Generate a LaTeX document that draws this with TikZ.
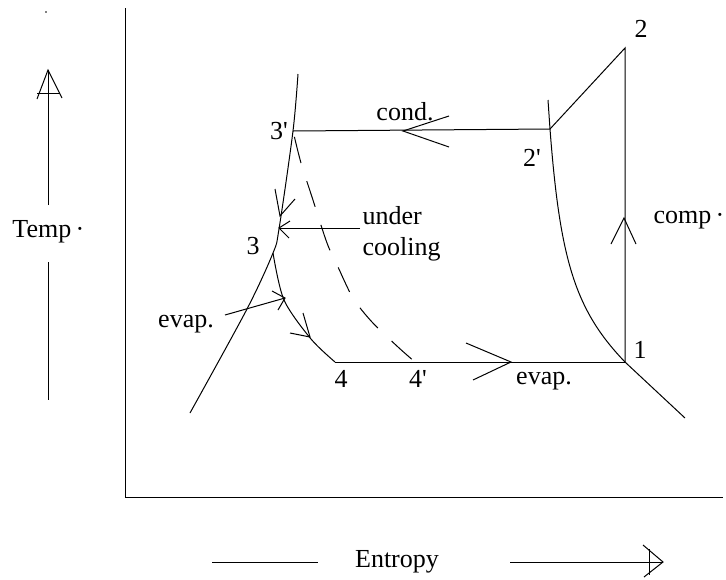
\documentclass[tikz,border=0pt]{standalone}
\usepackage{fontspec}
\setmainfont{Liberation Serif}
\usepackage{tikz}
\usetikzlibrary{positioning}
\newcommand{\pr}{\textquotesingle}
\tikzset{
  lbl/.style={font=\fontsize{26}{31}\selectfont,inner sep=0pt},
  satline/.style={line width=1pt},
  sketchdash/.style={dash pattern=on 27pt off 19pt,dash phase=40pt}
}

\begin{document}
\begin{tikzpicture}[x=1pt,y=-1pt,line width=1pt]
\useasboundingbox (0,0) rectangle (726,579);
% axes
\coordinate (ytop) at (125,8); \coordinate (orig) at (125,497); \coordinate (xend) at (723,497);
\draw (ytop) -- (orig) -- (xend);
\fill (46,12) circle (0.8);
% axis captions with hand drawn arrows
\node[lbl,anchor=west] (temp) at (12,232) {Temp\,·};
\coordinate (ttip) at (48,70);
\draw (48,205) -- (ttip); \draw (48,262) -- (48,400);
\draw (37,99) -- (ttip) -- (62,98); \draw (37,93) -- (60,93);
\node[lbl] (entropy) at (397,562) {Entropy};
\coordinate (stip) at (663,562);
\draw (212,562) -- (318,562); \draw (510,562) -- (stip);
\draw (643,545) -- (stip) -- (644,577); \draw (649,549) -- (649,575);
% cycle points
\coordinate (p1) at (625,362);
\coordinate (p2) at (625,48);
\coordinate (p2s) at (550,129);
\coordinate (p3s) at (293,131);
\coordinate (p3) at (273,253);
\coordinate (p4) at (335,362);
\coordinate (p4s) at (415,362);
% saturation lines
\draw[satline] plot[smooth] coordinates {(298,74) (p3s) (279,229) (p3) (247,309) (190,413)};
\draw[satline] (548,100) -- (p2s);
\draw[satline] (p2s) .. controls (560,260) and (575,310) .. (p1);
\draw[satline] (p1) -- (685,418);
% cycle
\draw (p1) -- (p2) -- (p2s) -- (p3s);
\draw plot[smooth] coordinates {(p3) (284,300) (311,339) (p4)};
\draw (p4) -- (p1);
\draw[sketchdash] plot[smooth] coordinates {(p3s) (301,163) (312,197) (327,243) (338,267) (353,298) (372,322) (398,347) (p4s)};
% arrow heads
\draw (611,244) -- (624,218) -- (636,244);
\draw (449,116) -- (403,131) -- (449,147);
\draw (466,343) -- (511,362) -- (473,380);
\draw (303,313) -- (310,337) -- (290,333);
\draw (275,189) -- (280,216) -- (295,199);
% side arrows
\coordinate (ucTip) at (279,228); \coordinate (evTip) at (285,298);
\draw (360,228) -- (ucTip); \draw (290,221) -- (ucTip) -- (289,238);
\draw (225,315) -- (evTip); \draw (272,291) -- (evTip) -- (278,310);
% labels
\node[lbl] (n1) at (640,350) {1};
\node[lbl] (n2) at (641,29) {2};
\node[lbl] (n2s) at (532,158) {2\pr};
\node[lbl] (n3s) at (279,131) {3\pr};
\node[lbl] (n3) at (253,246) {3};
\node[lbl] (n4) at (341,379) {4};
\node[lbl] (n4s) at (418,379) {4\pr};
\node[lbl] (cond) at (405,112) {cond.};
\node[lbl,anchor=west] (comp) at (653,220) {comp\,·};
\node[lbl] (evapL) at (186,324) {evap.};
\node[lbl] (evapB) at (544,381) {evap.};
\node[lbl,anchor=west,align=left] (uc) at (362,234) {under\\cooling};
\end{tikzpicture}
\end{document}
